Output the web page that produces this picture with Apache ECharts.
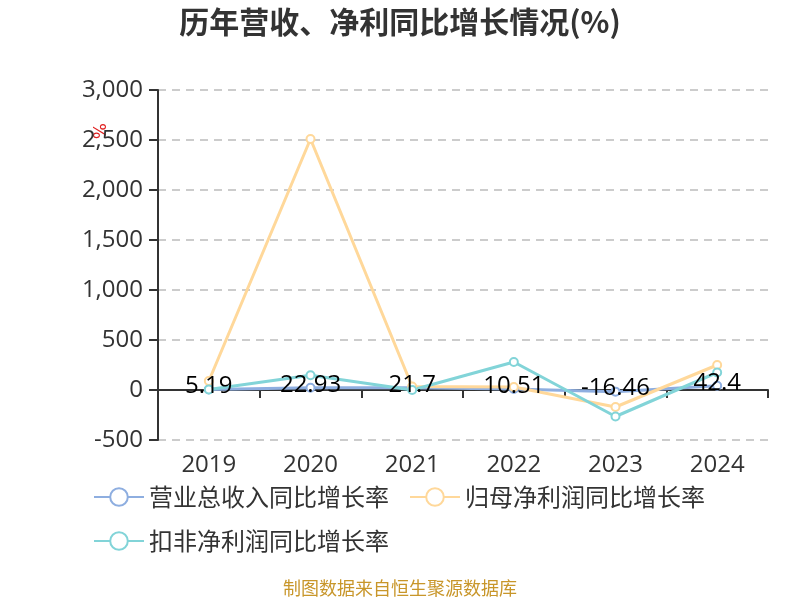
<!DOCTYPE html>
<html>
<head>
<meta charset="utf-8">
<script src="https://cdn.jsdelivr.net/npm/echarts@6/dist/echarts.min.js"></script>
<style>
  html, body { margin: 0; padding: 0; background: #fff; }
  #chart { width: 800px; height: 600px; }
</style>
</head>
<body>
<div id="chart"></div>
<script>
const years = ['2019', '2020', '2021', '2022', '2023', '2024'];
const revenueGrowth = [5.19, 22.93, 21.7, 10.51, -16.46, 42.4];
const netProfitGrowth = [90, 2510, 35, 30, -170, 250];
const deductedProfitGrowth = [5, 148, 0, 280, -265, 175];
const seriesNames = ['营业总收入同比增长率', '归母净利润同比增长率', '扣非净利润同比增长率'];

const chart = echarts.init(document.getElementById('chart'));
const lineSeries = (name, data, color, withLabel) => ({
  name: name,
  type: 'line',
  data: data,
  symbol: 'emptyCircle',
  symbolSize: 8,
  color: color,
  lineStyle: { width: 3, color: color },
  itemStyle: { color: color, borderWidth: 2 },
  label: withLabel ? {
    show: true,
    position: 'inside',
    offset: [0, -3],
    color: '#000',
    fontSize: 24,
    fontFamily: 'Open Sans'
  } : { show: false }
});

const option = {
  title: {
    text: '历年营收、净利同比增长情况(%)',
    left: 'center',
    top: 2,
    textStyle: { fontSize: 30, fontWeight: 'bold', color: '#333', fontFamily: 'Noto Sans CJK SC' }
  },
  graphic: [
    {
      type: 'text',
      x: 97,
      y: 131,
      rotation: -Math.PI / 2,
      style: {
        text: '%',
        fill: '#e02020',
        fontSize: 17,
        fontFamily: 'DejaVu Sans',
        align: 'center',
        verticalAlign: 'middle'
      }
    },
    {
      type: 'text',
      left: 'center',
      top: 579,
      style: { text: '制图数据来自恒生聚源数据库', fill: '#c8962a', fontSize: 18, fontFamily: 'Noto Sans CJK SC' }
    }
  ],
  legend: {
    left: 88,
    top: 480,
    width: 650,
    itemWidth: 50,
    itemHeight: 22,
    itemGap: 20,
    textStyle: { fontSize: 24, color: '#333', fontFamily: 'Noto Sans CJK SC' },
    data: seriesNames
  },
  grid: { left: 158, right: 32, top: 90, bottom: 160 },
  xAxis: {
    type: 'category',
    data: years,
    axisLine: { onZero: true, lineStyle: { color: '#333', width: 2 } },
    axisTick: { show: true, length: 8, lineStyle: { color: '#333', width: 2 } },
    axisLabel: { fontSize: 24, color: '#333', margin: 13, fontFamily: 'Open Sans' }
  },
  yAxis: {
    type: 'value',
    min: -500,
    max: 3000,
    interval: 500,
    axisLine: { show: true, lineStyle: { color: '#333', width: 2 } },
    axisTick: { show: true, length: 9, lineStyle: { color: '#333', width: 2 } },
    axisLabel: {
      fontSize: 24,
      color: '#333',
      margin: 15,
      fontFamily: 'Open Sans',
      formatter: v => v.toLocaleString('en-US')
    },
    splitLine: { show: true, lineStyle: { type: [8, 6], color: '#ccc', width: 2 } }
  },
  series: [
    lineSeries(seriesNames[0], revenueGrowth, '#8eaee0', true),
    lineSeries(seriesNames[1], netProfitGrowth, '#ffd89a', false),
    lineSeries(seriesNames[2], deductedProfitGrowth, '#82d4d8', false)
  ]
};
chart.setOption(option);
</script>
</body>
</html>
